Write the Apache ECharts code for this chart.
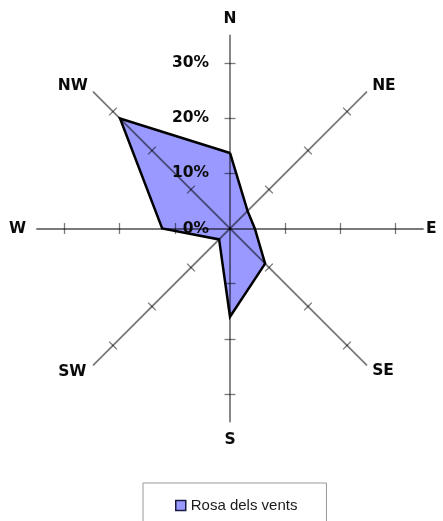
<!DOCTYPE html>
<html><head><meta charset="utf-8">
<script src="https://cdn.jsdelivr.net/npm/echarts@6/dist/echarts.min.js"></script>
<style>html,body{margin:0;padding:0;background:#fff}#c{width:443px;height:521px}</style>
</head><body><div id="c"></div>
<script>
// ---- data ----
const directions = ['N', 'NE', 'E', 'SE', 'S', 'SW', 'W', 'NW'];
const directionAngles = [0, 45, 90, 135, 180, 225, 270, 315];
const windValues = [13.7, 4.5, 4.5, 9.0, 16.0, 2.8, 12.3, 28.2];
const radiusLabelValues = [0, 10, 20, 30];
const radiusTickValues = [10, 20, 30];
const radiusMax = 35;
const seriesName = 'Rosa dels vents';

// ---- layout / style ----
const center = [230, 228.5];
const R = 193;
const nameGaps = [9, 8, 3, 8, 10, 10, 11, 8];
const axisStroke = 'rgba(0,0,0,0.52)';
const labelFont = {fontFamily: 'DejaVu Sans', fontWeight: 'bold', fontSize: 15.5, color: '#0a0a0a'};

const polar = [], angleAxis = [], radiusAxis = [];
directions.forEach((d, k) => {
  [1, -1].forEach((side, s) => {
    const idx = polar.length;
    polar.push({center: center, radius: R});
    angleAxis.push({
      polarIndex: idx, type: 'value', min: 0, max: 360,
      startAngle: 90 - directionAngles[k], clockwise: true,
      axisLine: {show: false}, axisTick: {show: false},
      axisLabel: {show: false}, splitLine: {show: false}
    });
    radiusAxis.push({
      polarIndex: idx, type: 'value', min: 0, max: radiusMax, interval: 10, z: 5,
      axisLine: {show: s === 0, lineStyle: {color: axisStroke, width: 1.8}},
      axisTick: {show: true, customValues: radiusTickValues, length: 5.5 * side,
                 lineStyle: {color: axisStroke, width: 1.3}},
      axisLabel: {show: k === 0 && s === 0, customValues: radiusLabelValues,
                  formatter: '{value}%', margin: 21, ...labelFont},
      splitLine: {show: false},
      name: s === 0 ? d : '', nameLocation: 'end', nameGap: nameGaps[k],
      nameTextStyle: labelFont
    });
  });
});

const seriesData = windValues.map((v, i) => [v, directionAngles[i]]);
seriesData.push([windValues[0], 360]);

const chart = echarts.init(document.getElementById('c'), null, {renderer: 'canvas'});
chart.setOption({
  animation: false,
  backgroundColor: '#fff',
  polar: polar, angleAxis: angleAxis, radiusAxis: radiusAxis,
  legend: {
    left: 143, top: 483,
    padding: [15, 29, 40, 32],
    borderColor: '#9a9a9a', borderWidth: 1,
    itemWidth: 10, itemHeight: 10,
    textStyle: {fontFamily: 'Liberation Sans', fontSize: 15, color: '#1a1a1a'},
    data: [{name: seriesName, icon: 'rect',
            itemStyle: {color: '#9999ff', borderColor: '#1a1a40', borderWidth: 1.5}}]
  },
  series: [{
    name: seriesName, type: 'line', coordinateSystem: 'polar', polarIndex: 0,
    data: seriesData, symbol: 'none', z: 1,
    itemStyle: {color: '#9999ff'},
    lineStyle: {color: '#000', width: 2.5, join: 'miter'},
    areaStyle: {color: '#9999ff', opacity: 1}
  }]
});
</script></body></html>
